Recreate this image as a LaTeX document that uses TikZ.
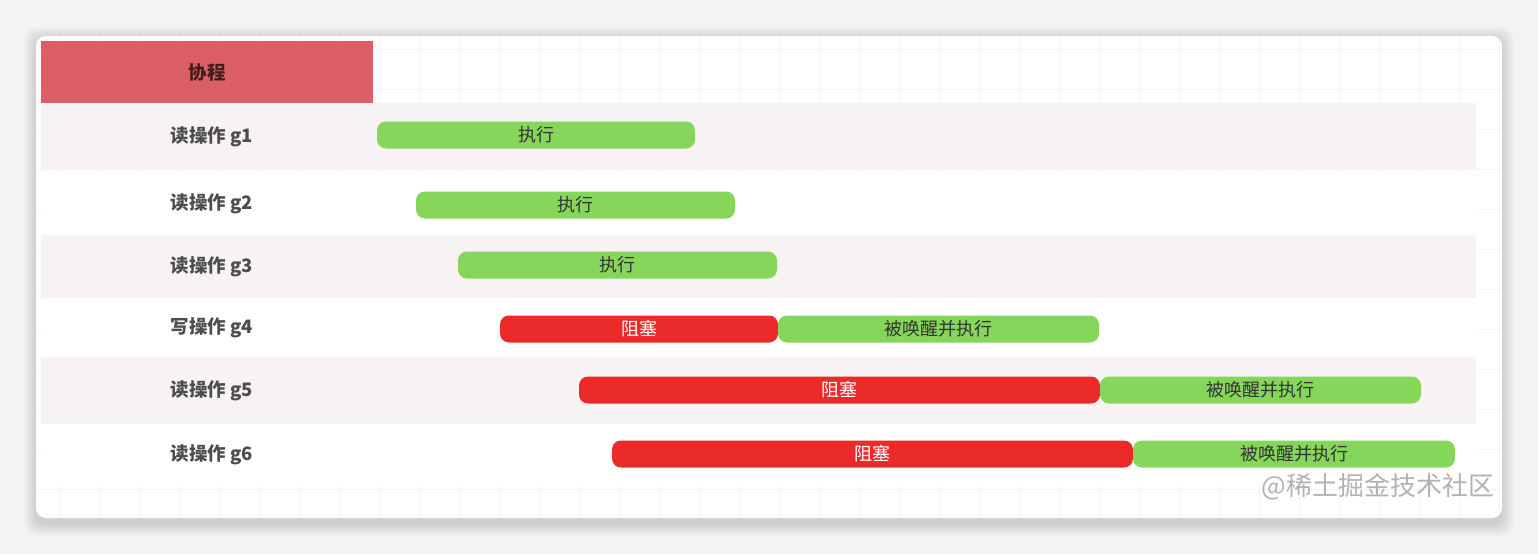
\documentclass[tikz,border=0pt]{standalone}
\usepackage{fontspec}
\setmainfont{Noto Sans CJK SC}
\usetikzlibrary{positioning, calc}

\definecolor{pagebg}{HTML}{F3F3F3}
\definecolor{gridc}{HTML}{F4F4F4}
\definecolor{bandc}{HTML}{F7F2F3}
\definecolor{headc}{HTML}{DC5F65}
\definecolor{runc}{HTML}{85D65A}
\definecolor{blockc}{HTML}{EB2A2A}
\definecolor{labc}{HTML}{4D4D4D}

\begin{document}
\begin{tikzpicture}[
  x=1pt, y=-1pt,
  every node/.style={font=\fontsize{18}{20}\selectfont, inner sep=0pt, outer sep=0pt},
  gridline/.style = {draw=gridc, line width=1pt},
  band/.style     = {minimum width=1435pt, minimum height=#1},
  pinkband/.style = {band=#1, fill=bandc},
  whiteband/.style= {band=#1, fill=white},
  head/.style     = {fill=headc, minimum width=332pt, minimum height=62pt, text=headc!30!black, font=\fontsize{18.5}{20}\selectfont\bfseries},
  rowlab/.style   = {text=labc, font=\fontsize{18.5}{20}\selectfont\bfseries},
  bar/.style      = {rounded corners=9pt, minimum height=27pt, anchor=west},
  run/.style      = {bar, fill=runc, text=black!80, minimum width=#1},
  blocked/.style  = {bar, fill=blockc, text=white, minimum width=#1},
  wmark/.style    = {text=black!30, font=\fontsize{26}{28}\selectfont},
]
  \useasboundingbox (0,0) rectangle (1538,554);
  \fill[pagebg] (0,0) rectangle (1538,554);
  % soft card shadow
  \foreach \s in {1,...,12}
    \fill[black, opacity=0.01, rounded corners=12pt] (36-\s,39-\s) rectangle (1502+\s,524+\s);
  \fill[white, rounded corners=10pt] (36,36) rectangle (1502,518);
  \begin{scope}
    \clip[rounded corners=10pt] (36,36) rectangle (1502,518);
    \foreach \x in {59,99,...,1499} \draw[gridline] (\x,36) -- (\x,518);
    \foreach \y in {49,89,...,509} \draw[gridline] (36,\y) -- (1502,\y);
  \end{scope}

  % rows
  \node[pinkband=67pt]  (r1) at (758.5,136.5) {};
  \node[whiteband=63pt] (r2) at (760.5,203.5) {};
  \node[pinkband=63pt]  (r3) at (758.5,266.5) {};
  \node[whiteband=59pt] (r4) at (760.5,327.5) {};
  \node[pinkband=67pt]  (r5) at (758.5,390.5) {};
  \node[whiteband=62pt] (r6) at (760.5,455) {};

  \node[head] (hdr) at (207,72) {协程};
  \foreach \n/\t in {1/读操作 g1,2/读操作 g2,3/读操作 g3,4/写操作 g4,5/读操作 g5,6/读操作 g6}
    \node[rowlab] (lab\n) at (212,0 |- r\n) {\t};

  % timeline bars
  \node[run=318pt] (e1) at (377,135) {执行};
  \node[run=319pt] (e2) at (416,205) {执行};
  \node[run=319pt] (e3) at (458,265) {执行};
  \node[blocked=278pt] (b4) at (500,329) {阻塞};
  \node[blocked=521pt] (b5) at (579,390) {阻塞};
  \node[blocked=521pt] (b6) at (612,454) {阻塞};
  \foreach \n/\w in {4/321pt,5/321pt,6/322pt}
    \node[run=\w, right=0pt of b\n] (w\n) {被唤醒并执行};

  \node[wmark, anchor=east] (wm) at (1494,487) {@稀土掘金技术社区};
\end{tikzpicture}
\end{document}
